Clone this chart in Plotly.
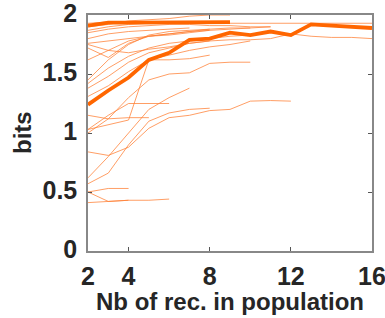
import plotly.graph_objects as go

# number of recordings in population (x positions)
n_rec = [2, 3, 4, 5, 6, 7, 8, 9, 10, 11, 12, 13, 14, 15, 16]

# thin lines: information (bits) per population, starting at 2 recordings
thin_lines = [
    [1.87, 1.90, 1.92, 1.93, 1.93, 1.93, 1.93, 1.93, 1.93, 1.93, 1.93, 1.93, 1.93, 1.93, 1.93],
    [1.75, 1.70, 1.68, 1.71, 1.73, 1.76, 1.78, 1.79, 1.79, 1.80, 1.84, 1.82, 1.81, 1.81, 1.80],
    [1.90, 1.92, 1.95, 1.96, 1.97, 1.99, 2.00, 2.00],
    [1.85, 1.88, 1.90, 1.91, 1.92, 1.92, 1.91, 1.91, 1.90, 1.90],
    [1.76, 1.78, 1.80, 1.82, 1.83, 1.85, 1.87, 1.88, 1.89, 1.90],
    [1.72, 1.64, 1.76, 1.82, 1.84, 1.86, 1.88],
    [1.45, 1.62, 1.75, 1.83, 1.86, 1.87, 1.88, 1.89, 1.89],
    [1.42, 1.55, 1.65, 1.72, 1.76, 1.78, 1.80, 1.82, 1.83],
    [1.38, 1.48, 1.60, 1.68, 1.72, 1.76, 1.78],
    [1.31, 1.40, 1.52, 1.62, 1.66, 1.70, 1.73, 1.75, 1.78],
    [1.93, 1.94, 1.94, 1.94],
    [1.80, 1.84, 1.86, 1.87, 1.88, 1.89],
    [1.62, 1.70, 1.78, 1.82, 1.84, 1.86, 1.87],
    [1.00, 1.12, 1.30, 1.45, 1.50, 1.51, 1.59, 1.60, 1.60],
    [0.84, 0.81, 0.88, 1.04, 1.13, 1.15, 1.19, 1.20, 1.27, 1.275, 1.27],
    [0.57, 0.66, 0.90, 1.10, 1.17, 1.20, 1.21],
    [1.15, 1.12, 1.13, 1.13],
    [1.03, 1.07, 1.11, 1.62, 1.62, 1.63, 1.66],
    [1.03, 1.15, 1.25, 1.25, 1.25],
    [0.62, 0.80, 1.00, 1.20, 1.30, 1.38],
    [0.50, 0.53, 0.53],
    [0.50, 0.42, 0.43, 0.43, 0.44],
    [0.41, 0.42, 0.43],
]

# thick lines
mean_bits = [1.24, 1.36, 1.47, 1.62, 1.68, 1.79, 1.80, 1.85, 1.83, 1.86, 1.83, 1.92, 1.91, 1.90, 1.89]
top_bits = [1.91, 1.935, 1.935, 1.935, 1.935, 1.94, 1.94, 1.94]

x_ticks = [2, 4, 8, 12, 16]
y_ticks = [0, 0.5, 1, 1.5, 2]
y_tick_text = ["0", "0.5", "1", "1.5", "2"]

thin_color = "rgba(255,125,50,0.75)"
thick_color = "rgb(255,102,0)"

fig = go.Figure()
for vals in thin_lines:
    fig.add_trace(go.Scatter(x=n_rec[:len(vals)], y=vals, mode="lines",
                             line=dict(color=thin_color, width=1), hoverinfo="skip"))
fig.add_trace(go.Scatter(x=n_rec[:len(top_bits)], y=top_bits, mode="lines",
                         line=dict(color=thick_color, width=3.8)))
fig.add_trace(go.Scatter(x=n_rec[:len(mean_bits)], y=mean_bits, mode="lines",
                         line=dict(color=thick_color, width=3.8)))

font_fam = "Liberation Sans, Arial, sans-serif"
fig.update_layout(
    width=385, height=318,
    margin=dict(l=88, r=13, t=15, b=67),
    paper_bgcolor="white", plot_bgcolor="white",
    showlegend=False,
    font=dict(family=font_fam, color="#262626"),
    annotations=[
        dict(text="<b>Nb of rec. in population</b>", xref="paper", yref="paper",
             x=0.5, y=-0.216, xanchor="center", yanchor="middle", showarrow=False,
             font=dict(size=24, family=font_fam, color="#262626")),
        dict(text="<b>bits</b>", xref="paper", yref="paper", textangle=-90,
             x=(22 - 88) / 284, y=0.5, xanchor="center", yanchor="middle", showarrow=False,
             font=dict(size=24, family=font_fam, color="#262626")),
    ],
)
fig.update_xaxes(
    range=[2, 16], tickvals=x_ticks, ticktext=[str(v) for v in x_ticks],
    ticks="inside", ticklen=4, tickcolor="#555", mirror="ticks",
    showline=True, linecolor="#888", linewidth=1.5, showgrid=False, zeroline=False,
    tickfont=dict(size=25, family=font_fam, color="#262626", weight="bold"),
    ticklabelstandoff=2, automargin=False, ticklabeloverflow="allow",
)
fig.update_yaxes(
    range=[0, 2], tickvals=y_ticks, ticktext=y_tick_text,
    ticks="inside", ticklen=4, tickcolor="#555", mirror="ticks",
    showline=True, linecolor="#888", linewidth=1.5, showgrid=False, zeroline=False,
    tickfont=dict(size=25, family=font_fam, color="#262626", weight="bold"),
    ticklabelstandoff=4, automargin=False, ticklabeloverflow="allow",
    ticklabelshift=-2,
)
# remove the default page margin so the figure sits at the window's top-left corner
fig.write_html("out.html", config={"displayModeBar": False},
               post_script="document.body.style.margin='0';")
